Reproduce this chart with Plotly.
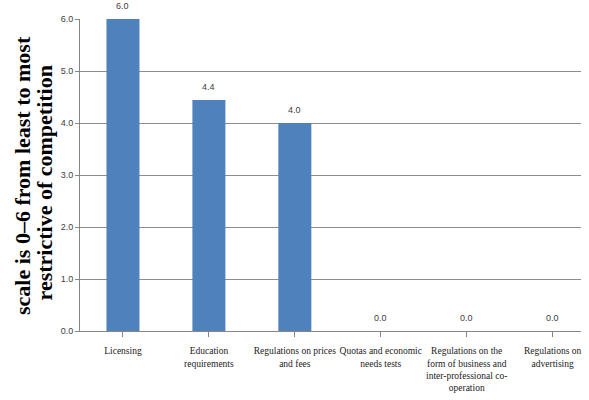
import plotly.graph_objects as go

categories = [
    "Licensing",
    "Education<br>requirements",
    "Regulations on prices<br>and fees",
    "Quotas and economic<br>needs tests",
    "Regulations on the<br>form of business and<br>inter-professional co-<br>operation",
    "Regulations on<br>advertising",
]
values = [6.0, 4.44, 4.0, 0.0, 0.0, 0.0]
y_ticks = [0, 1, 2, 3, 4, 5, 6]
y_ticklabels = ["0.0", "1.0", "2.0", "3.0", "4.0", "5.0", "6.0"]
y_title_lines = ["scale is 0–6 from least to most", "restrictive of competition"]

fig = go.Figure()
fig.add_trace(go.Bar(
    x=list(range(len(categories))),
    y=values,
    marker=dict(color="#4F81BD", line=dict(width=0)),
    hoverinfo="skip",
))

for i, v in enumerate(values):
    fig.add_annotation(
        x=i, y=v, text=f"{v:.1f}", showarrow=False, yshift=13,
        font=dict(family="Liberation Sans Narrow, Liberation Sans, sans-serif", size=9, color="#404040"),
        xref="x", yref="y",
    )

for line, xp, yp in zip(y_title_lines, [-0.1158, -0.0699], [0.5, 0.476]):
    fig.add_annotation(
        x=xp, y=yp, xref="paper", yref="paper",
        text=line, textangle=-90, showarrow=False,
        xanchor="center", yanchor="middle",
        font=dict(family="Liberation Serif, Times New Roman, serif", size=22, color="#000000", weight="bold"),
    )

fig.update_layout(
    width=589, height=400,
    margin=dict(l=80, r=8, t=19, b=69, autoexpand=False),
    paper_bgcolor="white", plot_bgcolor="white",
    showlegend=False,
    bargap=0.616,
    xaxis=dict(
        range=[-0.5, 5.33],
        tickmode="array",
        tickvals=list(range(len(categories))),
        ticktext=categories,
        tickson="boundaries",
        tickangle=0,
        automargin=False,
        ticks="outside", ticklen=5, tickcolor="#868686",
        showgrid=False, showline=True, linecolor="#868686", linewidth=1,
        tickfont=dict(family="Liberation Serif, Times New Roman, serif", size=9.5, color="#222222"),
        ticklabelstandoff=6,
        zeroline=False,
    ),
    yaxis=dict(
        range=[0, 6],
        tickmode="array", tickvals=y_ticks, ticktext=y_ticklabels,
        automargin=False,
        ticks="outside", ticklen=4, tickcolor="#868686",
        showgrid=True, gridcolor="#8c8c8c", gridwidth=1,
        showline=True, linecolor="#868686", linewidth=1,
        zeroline=False,
        tickfont=dict(family="Liberation Sans Narrow, Liberation Sans, sans-serif", size=9, color="#404040"),
    ),
)

fig.write_html("out.html")
